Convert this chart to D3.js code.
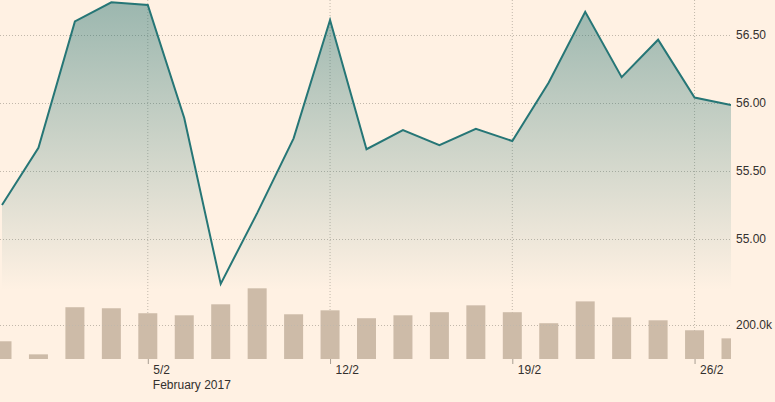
<!DOCTYPE html>
<html>
<head>
<meta charset="utf-8">
<script src="https://cdn.jsdelivr.net/npm/d3@7"></script>
<style>
  html, body { margin: 0; padding: 0; background: #fff1e3; }
  svg { display: block; }
  text { font-family: Arial, "Liberation Sans", sans-serif; font-size: 12px; fill: #33302e; }
</style>
</head>
<body>
<svg id="chart" width="775" height="402"></svg>
<script>
// Trading days (Sun–Thu market)
const dates = ["2017-01-30","2017-01-31","2017-02-01","2017-02-02","2017-02-05","2017-02-06","2017-02-07","2017-02-08","2017-02-09","2017-02-12","2017-02-13","2017-02-14","2017-02-15","2017-02-16","2017-02-19","2017-02-20","2017-02-21","2017-02-22","2017-02-23","2017-02-26","2017-02-27"];
const prices = [55.25, 55.67, 56.60, 56.74, 56.72, 55.89, 54.67, 55.19, 55.74, 56.61, 55.66, 55.80, 55.69, 55.81, 55.72, 56.15, 56.67, 56.19, 56.465, 56.04, 55.985];
const volumes = [103000, 27000, 301000, 295000, 266000, 254000, 318000, 411000, 260000, 283000, 237000, 254000, 272000, 312000, 272000, 208000, 335000, 242000, 225000, 167000, 120000];
const priceTicks = [55.00, 55.50, 56.00, 56.50];
const volumeTicks = [200000];
const axisTitle = "February 2017";

const W = 775, H = 402;
const plotLeft = 0, plotRight = 731;
const svg = d3.select("#chart");
const parse = d3.timeParse("%Y-%m-%d");
const dd = dates.map(parse);
const idx = d3.range(dates.length);

const x = d3.scaleLinear().domain([0, dates.length - 1]).range([2, 731]);
const yP = d3.scaleLinear().domain([54.625, 56.757]).range([290, 0]);
const yV = d3.scaleLinear().domain([0, 420000]).range([359, 286.76]);

const defs = svg.append("defs");
defs.append("clipPath").attr("id", "clip")
  .append("rect").attr("x", plotLeft).attr("y", 0).attr("width", plotRight - plotLeft).attr("height", H);
const grad = defs.append("linearGradient").attr("id", "fillGrad")
  .attr("x1", 0).attr("y1", 0).attr("x2", 0).attr("y2", 1);
grad.append("stop").attr("offset", "0%").attr("stop-color", "#22706f").attr("stop-opacity", 0.45);
grad.append("stop").attr("offset", "100%").attr("stop-color", "#22706f").attr("stop-opacity", 0);

const gridColor = "#c2b8ab";

// x ticks: Sundays
const tickIdx = idx.filter(i => dd[i].getDay() === 0);
const fmtDay = d3.timeFormat("%-d/%-m");

// vertical grid
svg.append("g").selectAll("line").data(tickIdx).join("line")
  .attr("x1", i => x(i)).attr("x2", i => x(i))
  .attr("y1", 0).attr("y2", 359)
  .attr("stroke", gridColor).attr("stroke-dasharray", "1 2");

// horizontal grid price
svg.append("g").selectAll("line").data(priceTicks).join("line")
  .attr("x1", plotLeft).attr("x2", plotRight)
  .attr("y1", d => Math.round(yP(d)) + 0.5).attr("y2", d => Math.round(yP(d)) + 0.5)
  .attr("stroke", gridColor).attr("stroke-dasharray", "1 2");

const plot = svg.append("g").attr("clip-path", "url(#clip)");

// volume bars
const bw = 19;
plot.append("g").selectAll("rect").data(idx).join("rect")
  .attr("x", i => x(i) - bw / 2)
  .attr("y", i => yV(volumes[i]))
  .attr("width", bw)
  .attr("height", i => yV(0) - yV(volumes[i]))
  .attr("fill", "#cdbba8");

// volume grid (drawn over bars)
svg.append("g").selectAll("line").data(volumeTicks).join("line")
  .attr("x1", plotLeft).attr("x2", plotRight)
  .attr("y1", d => Math.round(yV(d)) + 0.5).attr("y2", d => Math.round(yV(d)) + 0.5)
  .attr("stroke", gridColor).attr("stroke-dasharray", "1 2");

// area
const area = d3.area().x(i => x(i)).y0(yP.range()[0]).y1(i => yP(prices[i]));
plot.append("path").datum(idx).attr("d", area).attr("fill", "url(#fillGrad)");
const line = d3.line().x(i => x(i)).y(i => yP(prices[i]));
plot.append("path").datum(idx).attr("d", line)
  .attr("fill", "none").attr("stroke", "#267676").attr("stroke-width", 2).attr("stroke-linejoin", "miter");

// right axis labels
const fmtP = d3.format(".2f");
svg.append("g").selectAll("text").data(priceTicks).join("text")
  .attr("x", 736).attr("y", d => yP(d)).attr("dy", "0.35em").text(fmtP);
const fmtV = v => d3.format(".1f")(v / 1000) + "k";
svg.append("g").selectAll("text").data(volumeTicks).join("text")
  .attr("x", 736).attr("y", d => yV(d)).attr("dy", "0.35em").text(fmtV);

// bottom axis
const xAxis = d3.axisBottom(x).tickValues(tickIdx).tickSize(5).tickFormat(i => fmtDay(dd[i]));
const gx = svg.append("g").attr("transform", "translate(0,359)").call(xAxis);
gx.select(".domain").remove();
gx.selectAll(".tick line").attr("stroke", "#a89e92");
gx.selectAll(".tick text").attr("text-anchor", "start").attr("x", 5).attr("y", 6).attr("dy", "0.71em")
  .style("font-family", "Arial, 'Liberation Sans', sans-serif").style("font-size", "12px").attr("fill", "#33302e");

svg.append("text").attr("x", x(tickIdx[0]) + 5).attr("y", 389).text(axisTitle);
</script>
</body>
</html>
